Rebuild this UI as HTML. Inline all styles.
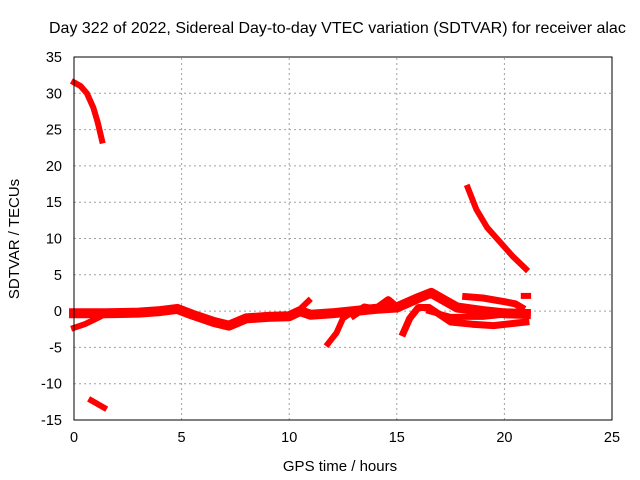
<!DOCTYPE html>
<html><head><meta charset="utf-8"><style>
body{margin:0;background:#fff}
svg{display:block;font-family:"Liberation Sans",sans-serif}
</style></head><body>
<svg id="chart" width="640" height="480" viewBox="0 0 640 480">
<text x="49" y="33" font-size="16">Day 322 of 2022, Sidereal Day-to-day VTEC variation (SDTVAR) for receiver alac</text>
<g id="grid"></g>
<g id="ticks" font-size="14.5"></g>
<g id="series"></g>
<rect x="74" y="57" width="538" height="363" fill="none" stroke="#000" stroke-width="1"/>
<text x="340" y="471" font-size="15" text-anchor="middle">GPS time / hours</text>
<text transform="translate(19,239) rotate(-90)" font-size="15" text-anchor="middle">SDTVAR / TECUs</text>
</svg>
<script>
const xTicks=[0,5,10,15,20,25];
const yTicks=[35,30,25,20,15,10,5,0,-5,-10,-15];
const trackEarlyHighX=[0,0.3,0.6,0.9,1.1,1.3];
const trackEarlyHighY=[31.5,31,30,28,26,23.5];
const trackEarlyLowX=[0.8,1.4];
const trackEarlyLowY=[-12.3,-13.3];
const trackLateHighX=[18.3,18.7,19.2,19.8,20.4,21];
const trackLateHighY=[17,14,11.5,9.5,7.5,5.8];
const trackMainX=[0,1,1.5,3,4,4.8,5.5,6.5,7.2,8,9,10,10.5,11,12,13,14,15,16,16.6,17.2,17.8,19,20,21];
const trackMainY=[-0.3,-0.3,-0.3,-0.2,0,0.3,-0.5,-1.5,-2,-1,-0.8,-0.7,0,-0.5,-0.3,0,0.3,0.5,1.8,2.5,1.5,0.5,0,-0.3,-0.4];
const trackRiseX=[0,0.5,1.2,1.5];
const trackRiseY=[-2.3,-1.8,-0.8,-0.3];
const trackSpikeX=[10.3,10.9];
const trackSpikeY=[-0.3,1.4];
const trackDipX=[11.8,12.2,12.5,13];
const trackDipY=[-4.5,-3,-1,0];
const trackLowBandX=[15.3,15.6,16,16.5,17,17.5,18.5,19.5,21];
const trackLowBandY=[-3,-1,0.5,0.5,-0.5,-1.5,-1.8,-2,-1.5];
const trackUpperX=[18.2,19,20,20.5,20.8];
const trackUpperY=[2,1.8,1.3,1,0.5];
const trackMidX=[16.5,17.5,19,20,21];
const trackMidY=[0,-0.8,-0.8,-0.5,-0.6];
const trackDotX=[20.9,21.1];
const trackDotY=[2.1,2.1];
const trackWiggleX=[13,13.5,14,14.6,15];
const trackWiggleY=[-0.5,0.5,0.2,1.5,0.5];

const NS="http://www.w3.org/2000/svg";
const X0=74,X1=612,Y0=420,Y1=57;
const sx=v=>X0+(v-0)/(25-0)*(X1-X0);
const sy=v=>Y0-(v+15)/(35+15)*(Y0-Y1);
const grid=document.getElementById('grid'),ticks=document.getElementById('ticks'),ser=document.getElementById('series');
function mk(tag,attrs,parent){const e=document.createElementNS(NS,tag);for(const k in attrs)e.setAttribute(k,attrs[k]);parent.appendChild(e);return e;}
xTicks.forEach(t=>{
  const x=sx(t);
  const g=mk('line',{x1:x,x2:x,y1:Y0,y2:Y1,stroke:'#a0a0a0','stroke-dasharray':'2,3'},grid);
  
  
  const l=mk('text',{x:x,y:Y0+22,'text-anchor':'middle'},ticks);
  l.textContent=t;
  
  
});
yTicks.forEach(t=>{
  const y=sy(t);
  const g=mk('line',{x1:X0,x2:X1,y1:y,y2:y,stroke:'#a0a0a0','stroke-dasharray':'2,3'},grid);
  
  
  const l=mk('text',{x:X0-12,y:y+5,'text-anchor':'end'},ticks);
  l.textContent=t;
  
  
});
const tracks=[[trackEarlyHighX,trackEarlyHighY,6],[trackEarlyLowX,trackEarlyLowY,6],[trackLateHighX,trackLateHighY,6],
[trackMainX,trackMainY,10],[trackRiseX,trackRiseY,6],[trackSpikeX,trackSpikeY,6],[trackDipX,trackDipY,6],
[trackLowBandX,trackLowBandY,7],[trackUpperX,trackUpperY,7],[trackMidX,trackMidY,6],[trackDotX,trackDotY,6],[trackWiggleX,trackWiggleY,8]];
tracks.forEach(([xs,ys,w])=>{
  const pts=xs.map((x,i)=>sx(x).toFixed(1)+','+sy(ys[i]).toFixed(1)).join(' ');
  const p=mk('polyline',{points:pts,fill:'none',stroke:'#ff0000','stroke-width':w,'stroke-linejoin':'round','stroke-linecap':'square'},ser);
  
  
});
</script>
</body></html>
